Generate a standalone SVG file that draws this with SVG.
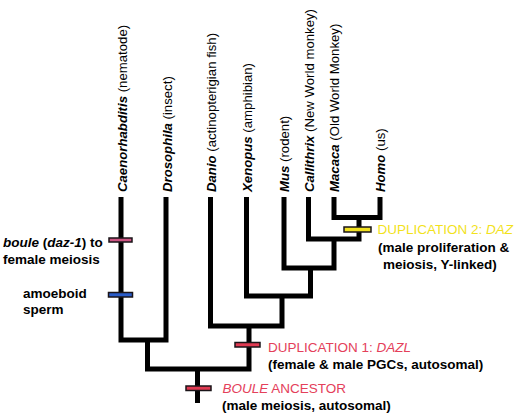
<svg xmlns="http://www.w3.org/2000/svg" width="521" height="413" viewBox="0 0 521 413">
<style>
text{font-family:"Liberation Sans",Arial,Helvetica,sans-serif;font-size:13.5px;fill:#000}
.leaf text{font-size:13.2px}
.b{font-weight:bold}
.bi{font-weight:bold;font-style:italic}
.red{fill:#e4405a}
.yel{fill:#f2e21c}
.tree{fill:none;stroke:#000;stroke-width:5;stroke-linejoin:miter;stroke-linecap:butt}
.bar{stroke:#1a1418;stroke-width:1.5}
</style>
<rect width="521" height="413" fill="#fff"/>
<g id="connectors" class="tree">
<path d="M334,197 V217.5 H380 V197"/>
<path d="M308.5,197 V239 H359 V217.5"/>
<path d="M284,197 V268 H334 V239"/>
<path d="M246.5,197 V296 H310.5 V268"/>
<path d="M210.5,197 V326 H282 V296"/>
<path d="M121,197 V340 H166 V197"/>
<path d="M147.5,340 V369 H249 V326"/>
<path d="M197.5,369 V403"/>
</g>
<g id="leaf-caenorhabditis" class="leaf"><text transform="translate(126.5,192) rotate(-90)"><tspan class="bi">Caenorhabditis</tspan> (nematode)</text></g>
<g id="leaf-drosophila" class="leaf"><text transform="translate(171.5,192) rotate(-90)"><tspan class="bi">Drosophila</tspan> (insect)</text></g>
<g id="leaf-danio" class="leaf"><text transform="translate(215.5,192) rotate(-90)"><tspan class="bi">Danio</tspan> (actinopterigian fish)</text></g>
<g id="leaf-xenopus" class="leaf"><text transform="translate(251.5,192) rotate(-90)"><tspan class="bi">Xenopus</tspan> (amphibian)</text></g>
<g id="leaf-mus" class="leaf"><text transform="translate(289,192) rotate(-90)"><tspan class="bi">Mus</tspan> (rodent)</text></g>
<g id="leaf-callithrix" class="leaf"><text transform="translate(313.5,192) rotate(-90)"><tspan class="bi">Callithrix</tspan> (New World monkey)</text></g>
<g id="leaf-macaca" class="leaf"><text transform="translate(339,192) rotate(-90)"><tspan class="bi">Macaca</tspan> (Old World Monkey)</text></g>
<g id="leaf-homo" class="leaf"><text transform="translate(385,192) rotate(-90)"><tspan class="bi">Homo</tspan> (us)</text></g>
<g id="event-boule-female">
<rect class="bar" x="109" y="238" width="23" height="4" fill="#cc5482"/>
<text class="b" x="3" y="247"><tspan font-style="italic">boule</tspan> (<tspan font-style="italic">daz-1</tspan>) to</text>
<text class="b" x="3" y="264">female meiosis</text>
</g>
<g id="event-amoeboid">
<rect class="bar" x="108.5" y="292.5" width="24" height="4.5" fill="#2a5cc8"/>
<text class="b" x="23" y="298">amoeboid</text>
<text class="b" x="23" y="314">sperm</text>
</g>
<g id="event-dup2">
<rect class="bar" x="344" y="227" width="27" height="5" fill="#f0e020"/>
<text class="yel" x="377.5" y="234" font-size="14">DUPLICATION 2: <tspan font-style="italic">DAZ</tspan></text>
<text class="b" x="378" y="252">(male proliferation &amp;</text>
<text class="b" x="383" y="269">meiosis, Y-linked)</text>
</g>
<g id="event-dup1">
<rect class="bar" x="235" y="342.5" width="25" height="4.5" fill="#e03a52"/>
<text class="red" x="268" y="352" font-size="14">DUPLICATION 1: <tspan font-style="italic">DAZL</tspan></text>
<text class="b" x="268" y="369">(female &amp; male PGCs, autosomal)</text>
</g>
<g id="event-boule-ancestor">
<rect class="bar" x="186" y="386" width="25" height="4.5" fill="#e03a52"/>
<text class="red" x="222.5" y="393" font-size="14"><tspan font-style="italic">BOULE</tspan> ANCESTOR</text>
<text class="b" x="222" y="410">(male meiosis, autosomal)</text>
</g>
</svg>
